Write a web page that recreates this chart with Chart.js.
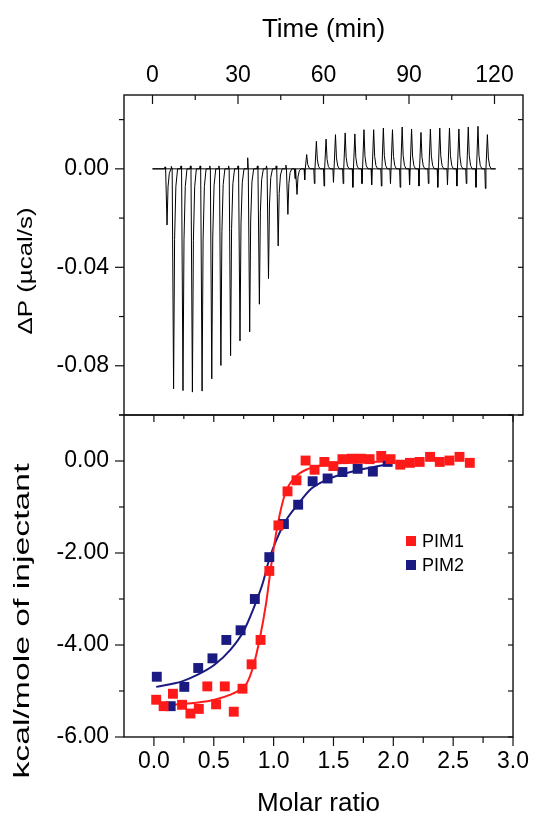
<!DOCTYPE html>
<html><head><meta charset="utf-8">
<script src="https://cdn.jsdelivr.net/npm/chart.js@4.4.1/dist/chart.umd.min.js"></script>
<style>
html,body{margin:0;padding:0;background:#fff;}
#wrap{position:relative;width:540px;height:815px;overflow:hidden;}
canvas{position:absolute;left:0;top:0;}
</style></head><body>
<div id="wrap"><canvas id="c1" width="540" height="815"></canvas><canvas id="c2" width="540" height="815"></canvas></div>
<script>
// ---------- top panel data (raw ITC thermogram) ----------
const timeTicks = [0, 30, 60, 90, 120];
const timeMinor = [15, 45, 75, 105];
const powerTicks = [-0.08, -0.04, 0.00];
const powerMinor = [-0.10, -0.06, -0.02, 0.02];
const injTime = [5.1, 7.4, 10.7, 14.0, 17.4, 20.8, 24.0, 27.4, 30.7, 34.1, 37.5, 40.7, 44.1, 47.5, 50.7,
  54.1, 57.5, 60.9, 64.2, 67.6, 71.0, 74.2, 77.6, 81.0, 84.2, 87.6, 90.9, 94.2, 97.5, 100.8, 104.2, 107.5, 110.8, 114.2, 117.5];
const injPeak = [-0.0228, -0.0894, -0.0901, -0.0907, -0.0903, -0.0853, -0.0799, -0.0759, -0.0699, -0.0662, -0.0550, -0.0446, -0.0313, -0.0185, -0.0104,
  0.0058, 0.0112, 0.0121, 0.0139, 0.0146, 0.0142, 0.0159, 0.0159, 0.0166, 0.0159, 0.0170, 0.0162, 0.0148, 0.0162, 0.0166, 0.0166, 0.0162, 0.0170, 0.0173, 0.0139];
const injArtifact = [0.0008, 0.0010, 0.0012, 0.0012, 0.0012, 0.0012, 0.0012, 0.0012, 0.0012, 0.0045, 0.0012, 0.0012, 0.0012, 0.0015, -0.0040,
  -0.0045, -0.0060, -0.0070, -0.0055, -0.0060, -0.0075, -0.0060, -0.0065, -0.0070, -0.0060, -0.0075, -0.0065, -0.0070, -0.0060, -0.0075, -0.0065, -0.0070, -0.0060, -0.0075, -0.0080];
const runEnd = 120.4;

// ---------- bottom panel data (integrated heats) ----------
const ratioTicks = [0.0, 0.5, 1.0, 1.5, 2.0, 2.5, 3.0];
const ratioMinor = [0.25, 0.75, 1.25, 1.75, 2.25, 2.75];
const heatTicks = [-6, -4, -2, 0];
const heatMinor = [-5, -3, -1, 1];
const pim1Ratio = [0.019, 0.081, 0.159, 0.235, 0.305, 0.375, 0.446, 0.519, 0.592, 0.667, 0.740, 0.816, 0.891, 0.964, 1.040, 1.116, 1.191, 1.267,
  1.342, 1.424, 1.499, 1.575, 1.653, 1.729, 1.802, 1.899, 1.977, 2.058, 2.139, 2.220, 2.307, 2.388, 2.469, 2.553, 2.639];
const pim1Heat = [-5.19, -5.33, -5.06, -5.30, -5.49, -5.39, -4.90, -5.29, -4.90, -5.45, -4.95, -4.42, -3.89, -2.39, -1.40, -0.66, -0.42, 0.01,
  -0.19, -0.02, -0.11, 0.04, 0.05, 0.05, 0.04, 0.11, 0.04, -0.08, -0.04, -0.02, 0.09, -0.02, 0.01, 0.09, -0.04];
const pim2Ratio = [0.024, 0.140, 0.254, 0.370, 0.489, 0.605, 0.724, 0.843, 0.964, 1.086, 1.205, 1.326, 1.451, 1.575, 1.702, 1.829, 1.953];
const pim2Heat = [-4.69, -5.33, -4.91, -4.50, -4.29, -3.89, -3.68, -3.00, -2.09, -1.37, -0.95, -0.44, -0.38, -0.24, -0.17, -0.23, -0.02];
const pim1FitRatio = [0.16, 0.235, 0.370, 0.506, 0.640, 0.721, 0.776, 0.830, 0.883, 0.938, 0.978, 1.032, 1.100, 1.181, 1.289, 1.45, 1.70, 1.95];
const pim1FitHeat = [-5.30, -5.28, -5.25, -5.19, -5.08, -4.97, -4.83, -4.46, -3.88, -3.08, -2.30, -1.41, -0.68, -0.35, -0.17, -0.07, -0.03, -0.01];
const pim2FitRatio = [0.019, 0.235, 0.370, 0.506, 0.640, 0.749, 0.830, 0.911, 0.964, 1.086, 1.207, 1.316, 1.451, 1.586, 1.721, 1.856, 1.953];
const pim2FitHeat = [-4.91, -4.79, -4.64, -4.43, -4.10, -3.70, -3.22, -2.64, -2.13, -1.37, -0.93, -0.60, -0.40, -0.28, -0.19, -0.12, -0.07];

// ---------- build tables ----------
const trace = [{x: 0, y: 0}];
injTime.forEach((t, i) => {
  const p = injPeak[i], a = injArtifact[i];
  trace.push({x: t - 0.9, y: 0}, {x: t - 0.7, y: a}, {x: t - 0.5, y: 0},
             {x: t, y: p}, {x: t + 0.35, y: p * 0.32}, {x: t + 0.8, y: p * 0.08}, {x: t + 1.4, y: 0});
});
trace.push({x: runEnd, y: 0});
const baseline = [{x: 0, y: 0}, {x: runEnd, y: 0}];
const zip = (xs, ys) => xs.map((x, i) => ({x, y: ys[i]}));

const FONT = "'Liberation Sans', Arial, Helvetica, sans-serif";
const INK = '#111';
const RED = '#ff1a1a';
const NAVY = '#1a1a80';

const boxTicks = {
  id: 'boxTicks',
  afterDraw(chart, args, opts) {
    const ctx = chart.ctx, a = chart.chartArea;
    ctx.save();
    ctx.strokeStyle = INK;
    ctx.lineWidth = 1.4;
    ctx.strokeRect(a.left, a.top, a.right - a.left, a.bottom - a.top);
    ctx.lineWidth = 1.2;
    (opts.sides || []).forEach(s => {
      const sc = chart.scales[s.axis];
      s.values.forEach(v => {
        const p = sc.getPixelForValue(v);
        ctx.beginPath();
        if (s.edge === 'top') { ctx.moveTo(p, a.top); ctx.lineTo(p, a.top + s.len); }
        else if (s.edge === 'bottom') { ctx.moveTo(p, a.bottom); ctx.lineTo(p, a.bottom + s.len); }
        else if (s.edge === 'left') { ctx.moveTo(a.left, p); ctx.lineTo(a.left - s.len, p); }
        else if (s.edge === 'right') { ctx.moveTo(a.right, p); ctx.lineTo(a.right - s.len, p); }
        ctx.stroke();
      });
    });
    ctx.restore();
  }
};

const vTitle = {
  id: 'vTitle',
  afterDraw(chart, args, o) {
    if (!o.text) return;
    const ctx = chart.ctx;
    ctx.save();
    ctx.font = o.size + 'px ' + FONT;
    ctx.fillStyle = '#000';
    const w = ctx.measureText(o.text).width;
    ctx.translate(o.cx, o.cy);
    ctx.rotate(-Math.PI / 2);
    ctx.scale(o.length / w, 1);
    ctx.textAlign = 'center';
    ctx.textBaseline = 'middle';
    ctx.fillText(o.text, 0, 0);
    ctx.restore();
  }
};

const boxLegend = {
  id: 'boxLegend',
  afterDraw(chart, args, o) {
    if (!o.items) return;
    const ctx = chart.ctx;
    ctx.save();
    ctx.font = o.size + 'px ' + FONT;
    ctx.textBaseline = 'middle';
    o.items.forEach((di, k) => {
      const ds = chart.data.datasets[di];
      const y = o.y + k * o.gap;
      ctx.fillStyle = ds.backgroundColor;
      ctx.fillRect(o.x - 5, y - 5, 10, 10);
      ctx.fillStyle = '#000';
      ctx.fillText(ds.label, o.x + 11, y + 1);
    });
    ctx.restore();
  }
};

const tickFont = {family: FONT, size: 23};
const titleFont = {family: FONT, size: 26};

new Chart(document.getElementById('c1'), {
  type: 'line',
  data: {datasets: [
    {label: 'ΔP', data: trace, borderColor: '#000', borderWidth: 1, pointRadius: 0, tension: 0, parsing: false},
    {label: 'baseline', data: baseline, borderColor: '#000', borderWidth: 1, pointRadius: 0, parsing: false}
  ]},
  options: {
    responsive: false, animation: false, events: [],
    layout: {padding: {left: 0, right: 17, top: 0, bottom: 400}},
    plugins: {
      legend: {display: false}, tooltip: {enabled: false},
      boxTicks: {sides: [
        {axis: 'x', edge: 'top', values: timeTicks, len: 9},
        {axis: 'x', edge: 'top', values: timeMinor, len: 5},
        {axis: 'y', edge: 'left', values: powerTicks, len: 9},
        {axis: 'y', edge: 'left', values: powerMinor, len: 5},
        {axis: 'y', edge: 'right', values: powerTicks.concat(powerMinor), len: 5}
      ]},
      vTitle: {text: 'ΔP (µcal/s)', cx: 26, cy: 271, size: 21, length: 127}
    },
    scales: {
      x: {type: 'linear', position: 'top', min: -10, max: 130,
        afterBuildTicks: s => { s.ticks = timeTicks.map(v => ({value: v})); },
        afterFit: s => { s.height = 95; },
        grid: {display: false, drawTicks: false}, border: {display: false},
        ticks: {font: tickFont, color: '#000', padding: 6, maxRotation: 0, callback: v => String(v)},
        title: {display: true, text: 'Time (min)', font: titleFont, color: '#000', padding: {top: 14, bottom: 0}}
      },
      y: {type: 'linear', position: 'left', min: -0.10, max: 0.03,
        afterBuildTicks: s => { s.ticks = powerTicks.map(v => ({value: v})); },
        afterFit: s => { s.width = 124; },
        grid: {display: false, drawTicks: false}, border: {display: false},
        ticks: {font: tickFont, color: '#000', padding: 15, callback: v => v.toFixed(2)}
      }
    }
  },
  plugins: [boxTicks, vTitle]
});

new Chart(document.getElementById('c2'), {
  type: 'scatter',
  data: {datasets: [
    {label: 'PIM1', data: zip(pim1Ratio, pim1Heat), backgroundColor: RED, borderWidth: 0, pointStyle: 'rect', pointRadius: 7, showLine: false},
    {label: 'PIM2', data: zip(pim2Ratio, pim2Heat), backgroundColor: NAVY, borderWidth: 0, pointStyle: 'rect', pointRadius: 7, showLine: false},
    {label: 'PIM1 fit', data: zip(pim1FitRatio, pim1FitHeat), borderColor: RED, borderWidth: 2, pointRadius: 0, showLine: true, cubicInterpolationMode: 'monotone'},
    {label: 'PIM2 fit', data: zip(pim2FitRatio, pim2FitHeat), borderColor: NAVY, borderWidth: 2, pointRadius: 0, showLine: true, cubicInterpolationMode: 'monotone'}
  ]},
  options: {
    responsive: false, animation: false, events: [],
    layout: {padding: {left: 0, right: 17, top: 415, bottom: 0}},
    plugins: {
      legend: {display: false}, tooltip: {enabled: false},
      boxTicks: {sides: [
        {axis: 'x', edge: 'top', values: ratioTicks, len: 7},
        {axis: 'x', edge: 'top', values: ratioMinor, len: 4},
        {axis: 'x', edge: 'bottom', values: ratioTicks, len: 9},
        {axis: 'x', edge: 'bottom', values: ratioMinor, len: 6},
        {axis: 'y', edge: 'left', values: heatTicks, len: 9},
        {axis: 'y', edge: 'left', values: heatMinor, len: 5},
        {axis: 'y', edge: 'right', values: heatTicks.concat(heatMinor), len: 5}
      ]},
      vTitle: {text: 'kcal/mole of injectant', cx: 23, cy: 621, size: 22, length: 315},
      boxLegend: {items: [0, 1], x: 411, y: 541, gap: 24, size: 18}
    },
    scales: {
      x: {type: 'linear', position: 'bottom', min: -0.25, max: 3.0,
        afterBuildTicks: s => { s.ticks = ratioTicks.map(v => ({value: v})); },
        afterFit: s => { s.height = 78; },
        grid: {display: false, drawTicks: false}, border: {display: false},
        ticks: {font: tickFont, color: '#000', padding: 11, maxRotation: 0, callback: v => v.toFixed(1)},
        title: {display: true, text: 'Molar ratio', font: {family: FONT, size: 26, lineHeight: 0.85}, color: '#000', padding: {top: 0, bottom: 0}}
      },
      y: {type: 'linear', position: 'left', min: -6, max: 1,
        afterBuildTicks: s => { s.ticks = heatTicks.map(v => ({value: v})); },
        afterFit: s => { s.width = 124; },
        grid: {display: false, drawTicks: false}, border: {display: false},
        ticks: {font: tickFont, color: '#000', padding: 15, callback: v => v.toFixed(2)}
      }
    }
  },
  plugins: [boxTicks, vTitle, boxLegend]
});
</script>
</body></html>
